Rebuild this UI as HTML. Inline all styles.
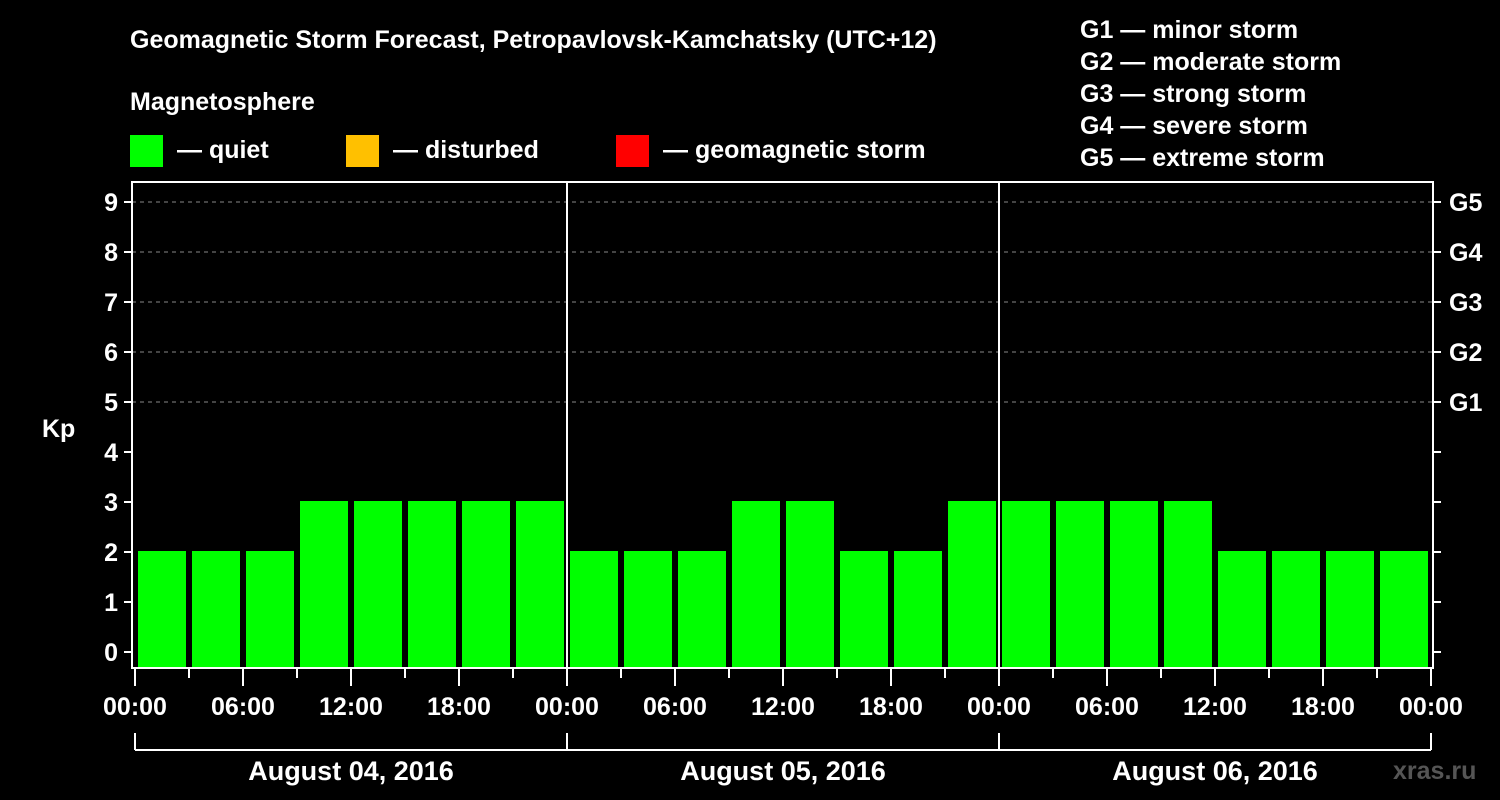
<!DOCTYPE html>
<html><head><meta charset="utf-8"><style>
html,body{margin:0;padding:0;background:#000;width:1500px;height:800px;overflow:hidden}
svg text{font-family:"Liberation Sans",Arial,sans-serif;font-weight:bold;fill:#fff}
</style></head><body>
<svg id="chart" width="1500" height="800" xmlns="http://www.w3.org/2000/svg">
<rect width="1500" height="800" fill="#000"/>
<text x="130" y="48" font-size="25">Geomagnetic Storm Forecast, Petropavlovsk-Kamchatsky (UTC+12)</text>
<text x="130" y="110" font-size="25">Magnetosphere</text>
<g><rect x="130" y="135" width="33" height="32" fill="#00ff00"/><text x="177" y="158" font-size="25">— quiet</text></g>
<g><rect x="346" y="135" width="33" height="32" fill="#ffc000"/><text x="393" y="158" font-size="25">— disturbed</text></g>
<g><rect x="616" y="135" width="33" height="32" fill="#ff0000"/><text x="663" y="158" font-size="25">— geomagnetic storm</text></g>
<g font-size="25">
<text x="1080" y="38" font-size="25">G1 — minor storm</text>
<text x="1080" y="70" font-size="25">G2 — moderate storm</text>
<text x="1080" y="102" font-size="25">G3 — strong storm</text>
<text x="1080" y="134" font-size="25">G4 — severe storm</text>
<text x="1080" y="166" font-size="25">G5 — extreme storm</text>
</g>
<text x="42" y="437" font-size="25">Kp</text>
<g id="grid"></g><g id="bars"></g><g id="axes"></g>
<text x="1393" y="779" font-size="25" style="fill:#555">xras.ru</text>
</svg>
<script>
const kpValues=[2,2,2,3,3,3,3,3, 2,2,2,3,3,2,2,3, 3,3,3,3,2,2,2,2];
const dayLabels=["August 04, 2016","August 05, 2016","August 06, 2016"];
const hourLabels=["00:00","06:00","12:00","18:00"];
const gLabels=["G1","G2","G3","G4","G5"];
const yTicks=[0,1,2,3,4,5,6,7,8,9];
const NS="http://www.w3.org/2000/svg";
const X0=135,DAY=432,SLOT=54,Y0=652,UNIT=50,LEFT=132,RIGHT=1433,TOP=182,BOT=668;
const xs=i=>X0+i*SLOT, ys=v=>Y0-v*UNIT;
function mk(p,tag,a){const e=document.createElementNS(NS,tag);for(const k in a)e.setAttribute(k,a[k]);p.appendChild(e);return e;}
const grid=document.getElementById('grid'),bars=document.getElementById('bars'),axes=document.getElementById('axes');
yTicks.forEach(v=>{if(v>=5){const l=mk(grid,'line',{x1:LEFT,x2:RIGHT,y1:ys(v),y2:ys(v),stroke:'#888','stroke-dasharray':'4 4','stroke-width':1});

}});
kpValues.forEach((v,i)=>{const c=v>=5?'#ff0000':(v>=4?'#ffc000':'#00ff00');
const r=mk(bars,'rect',{x:xs(i)+3,y:ys(v)-1,width:48,height:BOT-ys(v)+1,fill:c});

});
mk(axes,'rect',{x:LEFT,y:TOP,width:RIGHT-LEFT,height:BOT-TOP,fill:'none',stroke:'#fff','stroke-width':2});
for(let d=1;d<dayLabels.length;d++){mk(axes,'line',{x1:X0+d*DAY,x2:X0+d*DAY,y1:TOP,y2:BOT,stroke:'#fff','stroke-width':2});}
yTicks.forEach(v=>{mk(axes,'line',{x1:LEFT-8,x2:LEFT,y1:ys(v),y2:ys(v),stroke:'#fff','stroke-width':2});
mk(axes,'line',{x1:RIGHT,x2:RIGHT+8,y1:ys(v),y2:ys(v),stroke:'#fff','stroke-width':2});
const t=mk(axes,'text',{x:LEFT-14,y:ys(v)+9,'font-size':25,'text-anchor':'end'});t.textContent=v;

});
gLabels.forEach((g,i)=>{const t=mk(axes,'text',{x:RIGHT+16,y:ys(5+i)+9,'font-size':25});t.textContent=g;

});
const nSlots=kpValues.length;
for(let i=0;i<=nSlots;i++){const major=i%2===0;mk(axes,'line',{x1:xs(i),x2:xs(i),y1:BOT,y2:major?686:678,stroke:'#fff','stroke-width':2});
if(major){const t=mk(axes,'text',{x:xs(i),y:715,'font-size':25,'text-anchor':'middle'});t.textContent=hourLabels[(i/2)%4];

}}
mk(axes,'line',{x1:X0,x2:X0+dayLabels.length*DAY,y1:750,y2:750,stroke:'#fff','stroke-width':2});
for(let d=0;d<=dayLabels.length;d++)mk(axes,'line',{x1:X0+d*DAY,x2:X0+d*DAY,y1:733,y2:750,stroke:'#fff','stroke-width':2});
dayLabels.forEach((s,d)=>{const t=mk(axes,'text',{x:X0+d*DAY+DAY/2,y:780,'font-size':27,'text-anchor':'middle'});t.textContent=s;

});
</script>
</body></html>
